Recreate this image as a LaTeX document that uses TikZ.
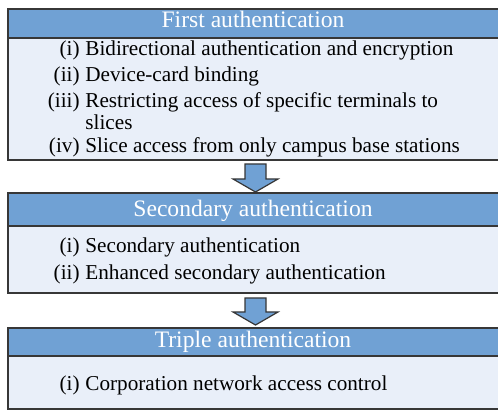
\documentclass[tikz,border=0pt]{standalone}
\usepackage{fontspec}
\setmainfont{Liberation Serif}
\usetikzlibrary{positioning}

\definecolor{headblue}{RGB}{112,161,212}
\definecolor{bodyblue}{RGB}{233,239,249}
\definecolor{edgegray}{RGB}{55,55,55}

\begin{document}
\begin{tikzpicture}[x=0.5pt, y=-0.5pt,
    frame/.style={draw=edgegray, line width=0.8pt},
    headtext/.style={text=white, anchor=base, inner sep=0pt, font=\fontsize{11.8}{14}\selectfont},
    itemlabel/.style={anchor=base east, inner sep=0pt, font=\fontsize{10.6}{12}\selectfont},
    itemtext/.style={anchor=base west, inner sep=0pt, font=\fontsize{10.6}{12}\selectfont},
    downarrow/.style={draw=edgegray, fill=headblue, line width=0.6pt, line join=miter}]
        \useasboundingbox (0,0) rectangle (498,411);
        \clip (0,0) rectangle (498,411);

        % First authentication
        \fill[headblue] (8,9) rectangle (504,38);
        \fill[bodyblue] (8,38) rectangle (504,160);
        \draw[frame] (8,9) rectangle (504,160);
        \draw[frame] (8,38) -- (504,38);
        \node[headtext] (first_head) at (253,28) {First authentication};
        \node[itemlabel] (first_l1) at (80,56) {(i)};
        \node[itemtext] (first_t1) at (85,56) {Bidirectional authentication and encryption};
        \node[itemlabel] (first_l2) at (80,82) {(ii)};
        \node[itemtext] (first_t2) at (85,82) {Device-card binding};
        \node[itemlabel] (first_l3) at (80,108) {(iii)};
        \node[itemtext] (first_t3) at (85,108) {Restricting access of specific terminals to};
        \node[itemtext] (first_t3b) at (85,130) {slices};
        \node[itemlabel] (first_l4) at (80,153) {(iv)};
        \node[itemtext] (first_t4) at (85,153) {Slice access from only campus base stations};

        % arrow down to the second box
        \draw[downarrow] (245,164) -- (266,164) -- (266,179) -- (278,179) -- (255.5,192)
            -- (233,179) -- (245,179) -- cycle;

        % Secondary authentication
        \fill[headblue] (8,193) rectangle (504,226);
        \fill[bodyblue] (8,226) rectangle (504,293);
        \draw[frame] (8,193) rectangle (504,293);
        \draw[frame] (8,226) -- (504,226);
        \node[headtext] (second_head) at (253,217) {Secondary authentication};
        \node[itemlabel] (second_l1) at (80,253) {(i)};
        \node[itemtext] (second_t1) at (85,253) {Secondary authentication};
        \node[itemlabel] (second_l2) at (80,279) {(ii)};
        \node[itemtext] (second_t2) at (85,279) {Enhanced secondary authentication};

        % arrow down to the third box
        \draw[downarrow] (245,298) -- (266,298) -- (266,312) -- (278,312) -- (255.5,325)
            -- (233,312) -- (245,312) -- cycle;

        % Triple authentication
        \fill[headblue] (8,328) rectangle (504,356);
        \fill[bodyblue] (8,356) rectangle (504,409);
        \draw[frame] (8,328) rectangle (504,409);
        \draw[frame] (8,356) -- (504,356);
        \node[headtext] (triple_head) at (253,348) {Triple authentication};
        \node[itemlabel] (triple_l1) at (80,390) {(i)};
        \node[itemtext] (triple_t1) at (85,390) {Corporation network access control};
\end{tikzpicture}
\end{document}
